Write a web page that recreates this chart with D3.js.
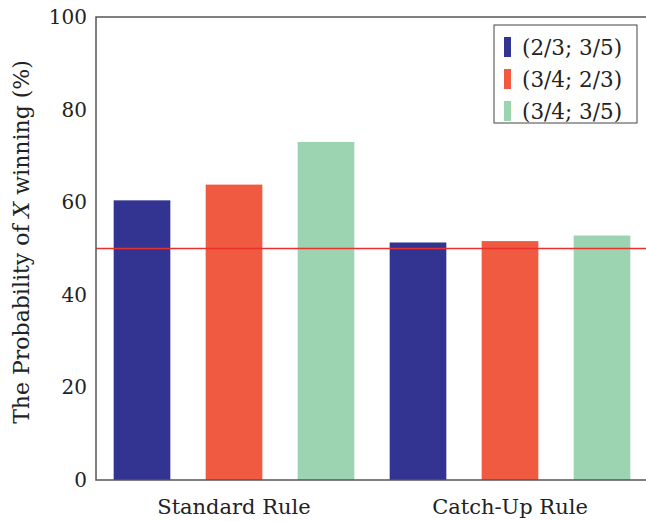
<!DOCTYPE html>
<html>
<head>
<meta charset="utf-8">
<script src="https://cdn.jsdelivr.net/npm/d3@7"></script>
<style>
  body { margin: 0; background: #fff; }
  text { font-family: "DejaVu Serif", "Liberation Serif", serif; fill: #222; }
</style>
</head>
<body>
<svg id="chart" width="646" height="521"></svg>
<script>
// data
const groups = ["Standard Rule", "Catch-Up Rule"];
const series = ["(2/3; 3/5)", "(3/4; 2/3)", "(3/4; 3/5)"];
const standardVals = [60.4, 63.8, 73.0];
const catchUpVals = [51.3, 51.6, 52.8];
const yTicks = [0, 20, 40, 60, 80, 100];
const refLine = 50;

const colors = ["#333391", "#ef5a40", "#9cd3b0"];

const rows = [];
groups.forEach((g, gi) => {
    const vals = gi == 0 ? standardVals : catchUpVals;
    series.forEach((s, si) => rows.push({group: g, series: s, value: vals[si]}));
});

const mLeft = 96, mTop = 17, mBottom = 480, mRight = 648;
const svg = d3.select("#chart");

const x0 = d3.scaleBand().domain(groups).range([mLeft, mRight]).padding(0);
const x1 = d3.scaleBand().domain(series).range([0, x0.bandwidth()])
    .paddingInner(0.384).paddingOuter(0.192);
const y = d3.scaleLinear().domain([0, 100]).range([mBottom, mTop]);

// bars
svg.selectAll("rect.bar")
    .data(rows)
    .join("rect")
    .attr("class", "bar")
    .attr("x", d => x0(d.group) + x1(d.series))
    .attr("width", x1.bandwidth())
    .attr("y", d => y(d.value))
    .attr("height", d => y(0) - y(d.value))
    .attr("fill", d => colors[series.indexOf(d.series)]);

// reference line at 50%
svg.append("line")
    .attr("x1", mLeft).attr("x2", mRight)
    .attr("y1", y(refLine)).attr("y2", y(refLine))
    .attr("stroke", "#e8302e").attr("stroke-width", 1.5);

// frame (left, top, bottom)
svg.append("path")
    .attr("d", `M${mRight},${mTop}H${mLeft}V${mBottom}H${mRight}`)
    .attr("fill", "none").attr("stroke", "#555").attr("stroke-width", 1.5);

// y tick labels
svg.selectAll("text.ytick")
    .data(yTicks)
    .join("text")
    .attr("class", "ytick")
    .attr("x", 87)
    .attr("y", d => y(d))
    .attr("dy", "0.35em")
    .attr("text-anchor", "end")
    .attr("font-size", 20)
    .text(d => d);

// x group labels
svg.selectAll("text.xlab")
    .data(groups)
    .join("text")
    .attr("class", "xlab")
    .attr("x", d => x0(d) + x0.bandwidth() / 2)
    .attr("y", 514)
    .attr("text-anchor", "middle")
    .attr("font-size", 21)
    .text(d => d);

// y axis title
const yt = svg.append("text")
    .attr("transform", "translate(29,242) rotate(-90)")
    .attr("text-anchor", "middle")
    .attr("font-size", 22);
yt.append("tspan").text("The Probability of ");
yt.append("tspan").attr("font-style", "italic").text("X");
yt.append("tspan").text(" winning (%)");

// legend
const lg = svg.append("g").attr("transform", "translate(494,25)");
lg.append("rect")
    .attr("width", 143).attr("height", 98)
    .attr("fill", "#fff").attr("stroke", "#444").attr("stroke-width", 1);
const items = lg.selectAll("g.item")
    .data(series)
    .join("g")
    .attr("class", "item")
    .attr("transform", (d, i) => `translate(10,${12 + i * 32})`);
items.append("rect")
    .attr("width", 7).attr("height", 20)
    .attr("fill", (d, i) => colors[i]);
items.append("text")
    .attr("x", 18).attr("y", 10).attr("dy", "0.35em")
    .attr("font-size", 21.5)
    .text(d => d);
</script>
</body>
</html>
